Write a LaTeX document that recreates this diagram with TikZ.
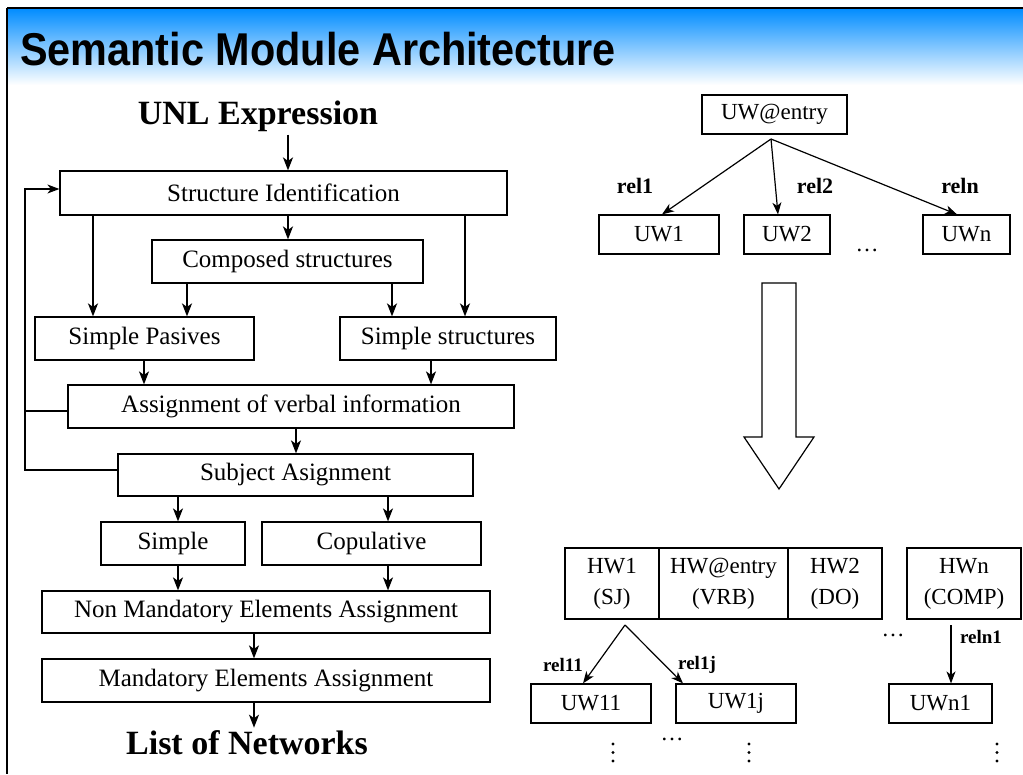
\documentclass[tikz,border=0pt]{standalone}
\usepackage{fontspec}
\setmainfont{Liberation Serif}
\newfontfamily\titlefont{Liberation Sans}
\usetikzlibrary{arrows.meta}
\definecolor{topblue}{RGB}{0,140,255}
\begin{document}
\begin{tikzpicture}[x=1pt,y=-1pt,
  box/.style={draw, line width=1.2pt, inner sep=0pt, anchor=center},
  lt/.style={font=\fontsize{25}{30}\selectfont},
  rt/.style={font=\fontsize{23}{31}\selectfont, align=center},
  arr/.style={line width=1.7pt, -{Stealth[length=13pt,width=10pt,inset=3.5pt]}},
  farr/.style={line width=1.2pt, -{Stealth[length=12pt,width=9pt,inset=3.5pt]}},
  tarr/.style={line width=1.2pt, -{Stealth[length=12pt,width=9pt,inset=3.5pt]}},
  lbl/.style={font=\fontsize{22}{26}\selectfont\bfseries, inner sep=0pt},
  slbl/.style={font=\fontsize{19}{22}\selectfont\bfseries, inner sep=0pt},
  big/.style={font=\fontsize{34}{40}\selectfont\bfseries, inner sep=3pt},
  hdots/.style={font=\fontsize{23}{26}\selectfont, inner sep=0pt, anchor=base},
  vdot/.style={fill=black, draw=none},
]
\useasboundingbox (0,0) rectangle (1023,774);
% header
\shade[top color=topblue, bottom color=white] (7,8) rectangle (1023,85);
\draw[line width=2pt] (7,8) -- (1023,8);
\draw[line width=1.5pt] (7,8) -- (7,774);
\node[anchor=base west, inner sep=0pt, font=\titlefont\bfseries\fontsize{46}{50}\selectfont] (title) at (20,65) {\scalebox{0.9}[1]{Semantic Module Architecture}};

% left flow
\node[big] (unl) at (258,116) {UNL Expression};
\node[box, lt, minimum width=447pt, minimum height=44pt] (si) at (283.5,193) {Structure Identification};
\node[box, lt, minimum width=271pt, minimum height=43pt] (cs) at (287.5,261.5) {Composed structures};
\node[box, lt, minimum width=219pt, minimum height=43pt] (sp) at (144.5,338.5) {Simple Pasives};
\node[box, lt, minimum width=216pt, minimum height=43pt] (ss) at (448,338.5) {Simple structures};
\node[box, lt, minimum width=446pt, minimum height=43pt] (avi) at (291,406.5) {Assignment of verbal information};
\node[box, lt, minimum width=355pt, minimum height=42pt] (sa) at (295.5,475) {Subject Asignment};
\node[box, lt, minimum width=144pt, minimum height=43pt] (simple) at (173,543.5) {Simple};
\node[box, lt, minimum width=219pt, minimum height=43pt] (cop) at (371.5,543.5) {Copulative};
\node[box, lt, minimum width=448pt, minimum height=42pt] (nm) at (266,612) {Non Mandatory Elements Assignment};
\node[box, lt, minimum width=448pt, minimum height=43pt] (mea) at (266,680.5) {Mandatory Elements Assignment};
\node[big] (lon) at (247,743) {List of Networks};

\draw[arr] (unl.south -| 288,0) -- (si.north -| 288,0);
\draw[arr] (si.south -| 93,0) -- (sp.north -| 93,0);
\draw[arr] (si.south -| 288,0) -- (cs.north -| 288,0);
\draw[arr] (si.south -| 465,0) -- (ss.north -| 465,0);
\draw[arr] (cs.south -| 187,0) -- (sp.north -| 187,0);
\draw[arr] (cs.south -| 392,0) -- (ss.north -| 392,0);
\draw[arr] (sp.south -| 144,0) -- (avi.north -| 144,0);
\draw[arr] (ss.south -| 431,0) -- (avi.north -| 431,0);
\draw[arr] (avi.south -| 296,0) -- (sa.north -| 296,0);
\draw[arr] (sa.south -| 178,0) -- (simple.north -| 178,0);
\draw[arr] (sa.south -| 388,0) -- (cop.north -| 388,0);
\draw[arr] (simple.south -| 178,0) -- (nm.north -| 178,0);
\draw[arr] (cop.south -| 388,0) -- (nm.north -| 388,0);
\draw[arr] (nm.south -| 254,0) -- (mea.north -| 254,0);
\draw[arr] (mea.south -| 254,0) -- (lon.north -| 254,0);
% feedback
\draw[farr] (sa.west |- 0,470) -- (25,470) -- (25,189) -- (si.west |- 0,189);
\draw[line width=1.2pt] (avi.west |- 0,411) -- (25,411);

% right top
\node[box, rt, minimum width=145pt, minimum height=39pt] (uwe) at (774.5,114.5) {UW@entry};
\node[box, rt, minimum width=120pt, minimum height=39pt] (uw1) at (659,234.5) {UW1};
\node[box, rt, minimum width=86pt, minimum height=39pt] (uw2) at (787,234.5) {UW2};
\node[box, rt, minimum width=87pt, minimum height=39pt] (uwn) at (966.5,234.5) {UWn};
\coordinate (uwo) at (771,139);
\draw[tarr] (uwo) -- (uw1.north -| 662,0);
\draw[tarr] (uwo) -- (uw2.north -| 778,0);
\draw[tarr] (uwo) -- (uwn.north -| 957,0);
\node[lbl] (r1) at (635,186) {rel1};
\node[lbl] (r2) at (815,186) {rel2};
\node[lbl] (rn) at (960,186) {reln};
\node[hdots] (d1) at (867,251) {\ldots};

% big arrow
\draw[line width=1.2pt, line join=miter] (762,283) -- (796,283) -- (796,437) -- (814,437) -- (779,489) -- (744,437) -- (762,437) -- cycle;

% bottom right
\node[box, rt, minimum width=94pt, minimum height=71pt] (hw1) at (612,583.5) {HW1\\(SJ)};
\node[box, rt, minimum width=129pt, minimum height=71pt] (hwe) at (723.5,583.5) {HW@entry\\(VRB)};
\node[box, rt, minimum width=94pt, minimum height=71pt] (hw2) at (835,583.5) {HW2\\(DO)};
\node[box, rt, minimum width=114pt, minimum height=71pt] (hwn) at (964,583.5) {HWn\\(COMP)};
\node[box, rt, minimum width=120pt, minimum height=39pt] (uw11) at (591,703.5) {UW11};
\node[box, rt, minimum width=120pt, minimum height=39pt] (uw1j) at (736,703.5) {UW1j};
\node[box, rt, minimum width=103pt, minimum height=39pt] (uwn1) at (940.5,703.5) {UWn1};
\coordinate (hwo) at (625,625);
\coordinate (hwnb) at (951,625);
\draw[tarr] (hwo) -- (uw11.north -| 583,0);
\draw[tarr] (hwo) -- (uw1j.north -| 683,0);
\draw[tarr] (hwnb) -- (uwn1.north -| 951,0);
\node[slbl] (r11) at (563,665) {rel11};
\node[slbl] (r1j) at (697,665) {rel1j};
\node[slbl] (rn1) at (981,637) {reln1};
\node[hdots] (d2) at (672,740) {\ldots};
\node[hdots] (d3) at (893,636) {\ldots};
\foreach \x in {613,749,997}{
  \foreach \y in {744,752.5,761}{
    \fill[vdot] (\x,\y) circle (1.6pt);
  }
}
\end{tikzpicture}
\end{document}
